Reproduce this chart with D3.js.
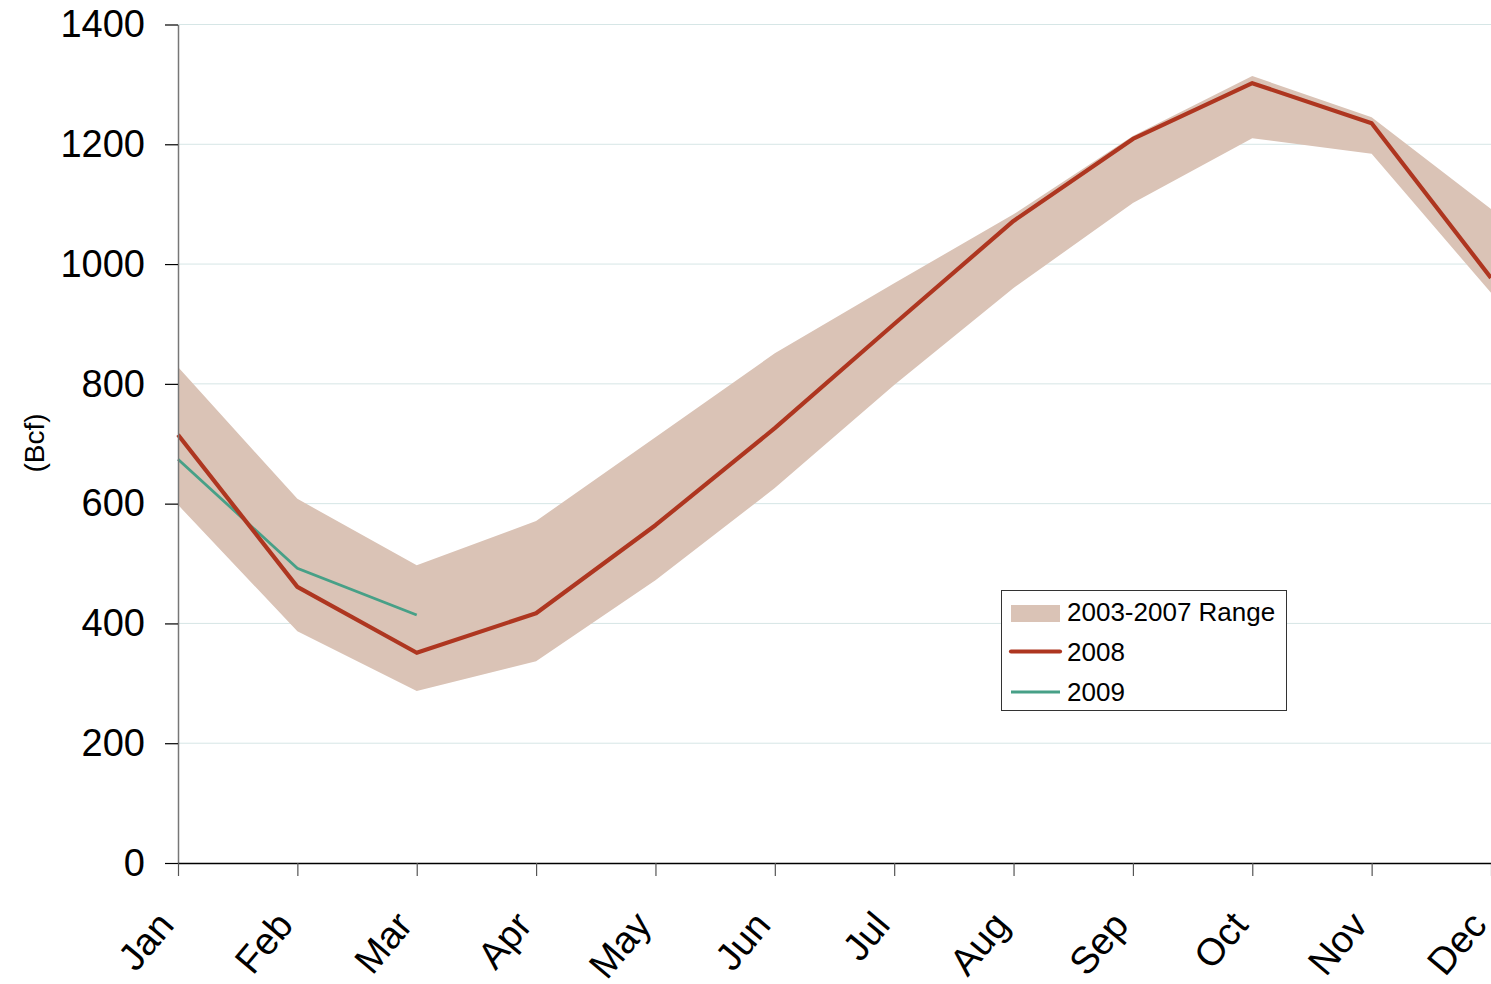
<!DOCTYPE html>
<html><head><meta charset="utf-8">
<script src="https://cdn.jsdelivr.net/npm/d3@7"></script>
<style>body{margin:0;background:#fff}svg{display:block}text{font-family:"Liberation Sans",Arial,sans-serif}</style>
</head><body><svg id="c" width="1491" height="984"></svg>
<script>
const months = ["Jan","Feb","Mar","Apr","May","Jun","Jul","Aug","Sep","Oct","Nov","Dec"];
const rangeHigh = [828,608,497,571,711,851,968,1083,1214,1314,1245,1092];
const rangeLow  = [598,387,287,337,472,626,798,960,1102,1210,1184,952];
const s2008 = [715,461,351,417,564,726,900,1072,1209,1302,1235,977];
const s2009 = [674,492,414];
const yTicks = [0,200,400,600,800,1000,1200,1400];

const svg = d3.select("#c");
const L = 178, R = 1491, T = 24.5, B = 863;
const x = d3.scalePoint().domain(months).range([L, R]);
const y = d3.scaleLinear().domain([0,1400]).range([B, T]);

// gridlines
svg.append("g").selectAll("line").data(yTicks.filter(d=>d>0)).join("line")
  .attr("x1", L).attr("x2", R).attr("y1", d=>y(d)).attr("y2", d=>y(d))
  .attr("stroke", "#d6e6e6").attr("stroke-width", 1);

// band
const area = d3.area().x((d,i)=>x(months[i])).y0((d,i)=>y(rangeLow[i])).y1(d=>y(d));
svg.append("path").datum(rangeHigh).attr("d", area).attr("fill", "#dac3b6");

const line = d3.line().x((d,i)=>x(months[i])).y(d=>y(d));
svg.append("path").datum(s2009).attr("d", line).attr("fill","none")
  .attr("stroke","#47a087").attr("stroke-width",2.8);
svg.append("path").datum(s2008).attr("d", line).attr("fill","none")
  .attr("stroke","#ae3620").attr("stroke-width",4.2).attr("stroke-linejoin","round");

// y axis
const ya = svg.append("g").attr("transform", `translate(${L},0)`)
  .call(d3.axisLeft(y).tickValues(yTicks).tickFormat(d3.format("d")).tickSize(13).tickPadding(20).tickSizeOuter(0));
ya.select(".domain").attr("stroke","#777").attr("stroke-width",1.5);
ya.selectAll(".tick line").attr("stroke","#000").attr("stroke-width",1.2);
ya.selectAll("text").attr("font-size",38).attr("fill","#000").attr("font-family","Liberation Sans, Arial, sans-serif");

// x axis
const xa = svg.append("g").attr("transform", `translate(0,${B})`)
  .call(d3.axisBottom(x).tickSize(13).tickSizeOuter(0));
xa.select(".domain").attr("stroke","#000").attr("stroke-width",1.5);
xa.selectAll(".tick line").attr("stroke","#555").attr("stroke-width",1.2);
xa.selectAll("text").attr("font-size",38).attr("fill","#000")
  .attr("font-family","Liberation Sans, Arial, sans-serif")
  .attr("text-anchor","end").attr("dy",0).attr("y",0)
  .attr("transform","translate(-3,63) rotate(-50)");

// y title
svg.append("text").attr("transform","translate(44,443) rotate(-90)")
  .attr("text-anchor","middle").attr("font-size",28).text("(Bcf)");

// legend
const lg = svg.append("g");
lg.append("rect").attr("x",1001.5).attr("y",590.5).attr("width",285).attr("height",120)
  .attr("fill","#fff").attr("stroke","#333").attr("stroke-width",1);
lg.append("rect").attr("x",1011).attr("y",605).attr("width",49).attr("height",17).attr("fill","#dac3b6");
lg.append("line").attr("x1",1011).attr("x2",1060).attr("y1",651.5).attr("y2",651.5)
  .attr("stroke","#ae3620").attr("stroke-width",4.2).attr("stroke-linecap","round");
lg.append("line").attr("x1",1011).attr("x2",1060).attr("y1",692).attr("y2",692)
  .attr("stroke","#47a087").attr("stroke-width",2.8);
const lgText = ["2003-2007 Range","2008","2009"];
lg.selectAll("text.l").data(lgText).join("text").attr("class","l")
  .attr("x",1067).attr("y",(d,i)=>621+i*40).attr("font-size",26).text(d=>d);
</script></body></html>
